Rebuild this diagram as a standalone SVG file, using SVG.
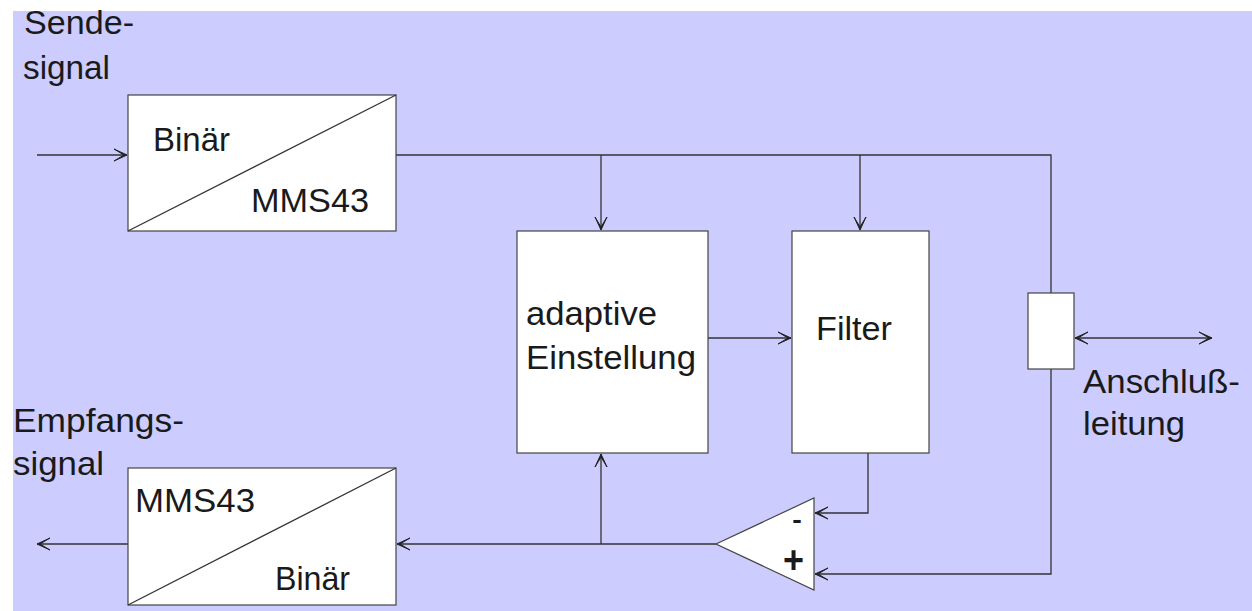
<svg xmlns="http://www.w3.org/2000/svg" width="1252" height="611" viewBox="0 0 1252 611">
<style>
.box{fill:#fff;stroke:#444;stroke-width:1.2}
.ln{fill:none;stroke:#333;stroke-width:1.3}
.arr{marker-end:url(#ah)}
text{font-family:"Liberation Sans",Arial,sans-serif;font-size:34px;fill:#1a1a1a}
.sign{font-size:38px}
</style>
<defs>
<marker id="ah" markerUnits="userSpaceOnUse" markerWidth="14" markerHeight="14" refX="0" refY="0" orient="auto-start-reverse" overflow="visible">
<path d="M-13,-6 L0,0 L-13,6 L-3,0 Z" fill="#222" stroke="#222" stroke-width="1" stroke-linejoin="miter"/>
</marker>
</defs>
<rect x="13" y="11" width="1239" height="600" fill="#ccccff"/>
<g id="connectors">
<path class="ln arr" d="M37,155 H127"/>
<path class="ln" d="M396,155 H1051 V293"/>
<path class="ln arr" d="M601,155 V230"/>
<path class="ln arr" d="M860,155 V230"/>
<path class="ln arr" d="M708,338 H791"/>
<path class="ln arr" d="M1051,369 V574 H815"/>
<path class="ln arr" d="M868,453 V513 H815"/>
<path class="ln arr" d="M716,544 H397"/>
<path class="ln arr" d="M601,544 V454"/>
<path class="ln arr" d="M128,544 H37"/>
<path class="ln" d="M1075,338 H1212" marker-start="url(#ah)" marker-end="url(#ah)"/>
</g>
<g id="text-sende">
<text x="24" y="34" textLength="110" lengthAdjust="spacingAndGlyphs">Sende-</text>
<text x="23" y="79" textLength="87" lengthAdjust="spacingAndGlyphs">signal</text>
</g>
<g id="text-empfang">
<text x="13" y="432" textLength="171" lengthAdjust="spacingAndGlyphs">Empfangs-</text>
<text x="13" y="475" textLength="91" lengthAdjust="spacingAndGlyphs">signal</text>
</g>
<g id="encoder">
<rect class="box" x="128" y="95" width="268" height="136"/>
<line class="ln" x1="128" y1="231" x2="396" y2="95" stroke-width="1"/>
<text x="153" y="151" textLength="77" lengthAdjust="spacingAndGlyphs">Binär</text>
<text x="251" y="212" textLength="118" lengthAdjust="spacingAndGlyphs">MMS43</text>
</g>
<g id="decoder">
<rect class="box" x="128" y="468" width="268" height="137"/>
<line class="ln" x1="128" y1="605" x2="396" y2="468" stroke-width="1"/>
<text x="135" y="512" textLength="120" lengthAdjust="spacingAndGlyphs">MMS43</text>
<text x="275" y="590" textLength="75" lengthAdjust="spacingAndGlyphs">Binär</text>
</g>
<g id="adaptive">
<rect class="box" x="517" y="231" width="191" height="222"/>
<text x="526" y="325" textLength="131" lengthAdjust="spacingAndGlyphs">adaptive</text>
<text x="526" y="369" textLength="170" lengthAdjust="spacingAndGlyphs">Einstellung</text>
</g>
<g id="filter">
<rect class="box" x="792" y="231" width="137" height="222"/>
<text x="816" y="340" textLength="76" lengthAdjust="spacingAndGlyphs">Filter</text>
</g>
<g id="subtractor">
<polygon class="box" points="716,544 814,498 814,590"/>
<text class="sign" x="792" y="532" textLength="10" lengthAdjust="spacingAndGlyphs">-</text>
<text class="sign" x="783" y="573" textLength="21" lengthAdjust="spacingAndGlyphs" style="font-weight:bold">+</text>
</g>
<g id="hybrid">
<rect class="box" x="1028" y="293" width="46" height="76"/>
</g>
<g id="text-anschluss">
<text x="1083" y="393" textLength="157" lengthAdjust="spacingAndGlyphs">Anschluß-</text>
<text x="1083" y="435" textLength="102" lengthAdjust="spacingAndGlyphs">leitung</text>
</g>
</svg>
